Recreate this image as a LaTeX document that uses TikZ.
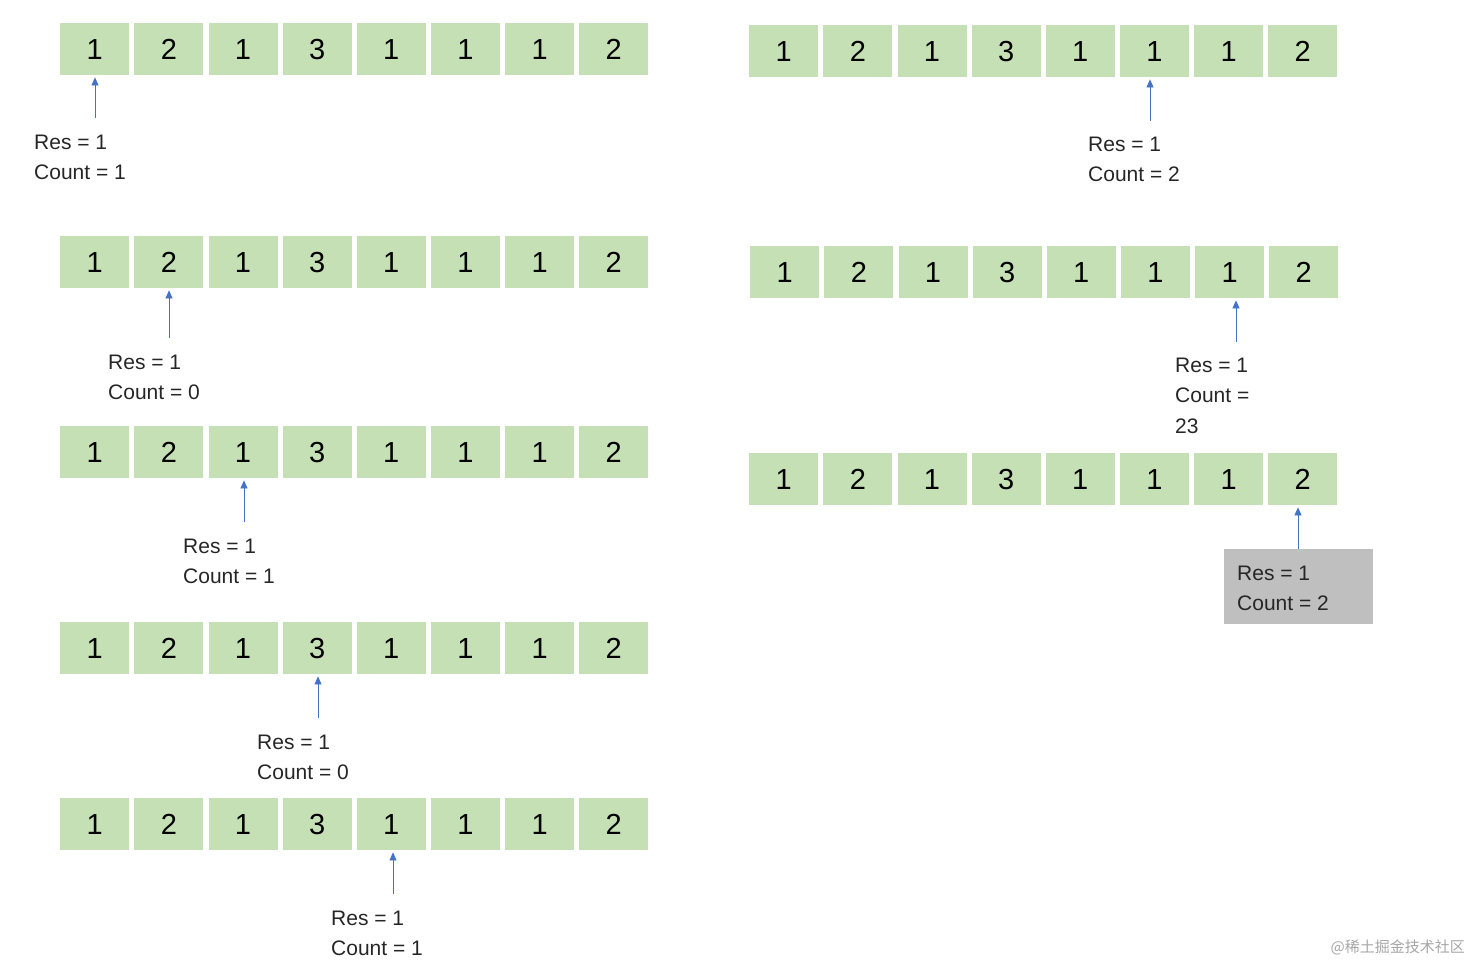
\documentclass[tikz,border=0pt]{standalone}
\usepackage{fontspec}
\setmainfont{Liberation Sans}
\newfontfamily\cjk{Noto Sans CJK SC}
\usetikzlibrary{arrows.meta}
\definecolor{cellg}{HTML}{C5E0B4}
\definecolor{arrb}{HTML}{4472C4}
\definecolor{boxg}{HTML}{BFBFBF}
\tikzset{
 cell/.style={fill=cellg,draw=none,minimum width=69pt,minimum height=52pt,inner sep=0pt,anchor=north west,font=\fontsize{29}{30}\selectfont},
 lbl/.style={anchor=west,inner sep=0pt,font=\fontsize{21}{22}\selectfont,text=black!85},
 ptr/.style={draw=arrb,line width=0.8pt,-{Triangle[length=8pt,width=7pt]},shorten >=2pt}
}
\newcommand{\myrow}[3]{% name, x, y
 \foreach \v [count=\i from 0] in {1,2,1,3,1,1,1,2}{
  \node[cell] (#1c\i) at ({#2+\i*74.15},#3) {\v};
 }}
\begin{document}
\begin{tikzpicture}[x=1pt,y=-1pt]
\useasboundingbox (0,0) rectangle (1470,964);
\myrow{a}{60}{23}
\myrow{b}{60}{236}
\myrow{c}{60}{426}
\myrow{d}{60}{622}
\myrow{e}{60}{798}
\myrow{f}{749}{25}
\myrow{g}{750}{246}
\myrow{h}{749}{453}
% pointers
\coordinate (pa) at (95,118); \draw[ptr] (pa) -- (ac0.south -| pa);
\coordinate (pb) at (169,338); \draw[ptr] (pb) -- (bc1.south -| pb);
\coordinate (pc) at (244,522); \draw[ptr] (pc) -- (cc2.south -| pc);
\coordinate (pd) at (318,718); \draw[ptr] (pd) -- (dc3.south -| pd);
\coordinate (pe) at (393,894); \draw[ptr] (pe) -- (ec4.south -| pe);
\coordinate (pf) at (1150,121); \draw[ptr] (pf) -- (fc5.south -| pf);
\coordinate (pg) at (1236,342); \draw[ptr] (pg) -- (gc6.south -| pg);
\fill[boxg] (1224,549) rectangle (1373,624);
\coordinate (ph) at (1298,549); \draw[ptr] (ph) -- (hc7.south -| ph);
% labels
\node[lbl] (la1) at (34,142) {Res = 1}; \node[lbl] (la2) at (34,172) {Count = 1};
\node[lbl] (lb1) at (108,362) {Res = 1}; \node[lbl] (lb2) at (108,392) {Count = 0};
\node[lbl] (lc1) at (183,546) {Res = 1}; \node[lbl] (lc2) at (183,576) {Count = 1};
\node[lbl] (ld1) at (257,742) {Res = 1}; \node[lbl] (ld2) at (257,772) {Count = 0};
\node[lbl] (le1) at (331,918) {Res = 1}; \node[lbl] (le2) at (331,948) {Count = 1};
\node[lbl] (lf1) at (1088,144) {Res = 1}; \node[lbl] (lf2) at (1088,174) {Count = 2};
\node[lbl] (lg1) at (1175,365) {Res = 1}; \node[lbl] (lg2) at (1175,395) {Count =}; \node[lbl] (lg3) at (1175,426) {23};
\node[lbl] (lh1) at (1237,573) {Res = 1}; \node[lbl] (lh2) at (1237,603) {Count = 2};
\node[anchor=east,inner sep=0pt,text=black!35,font=\cjk\fontsize{15}{16}\selectfont] (wm) at (1465,947) {@稀土掘金技术社区};
\end{tikzpicture}
\end{document}
